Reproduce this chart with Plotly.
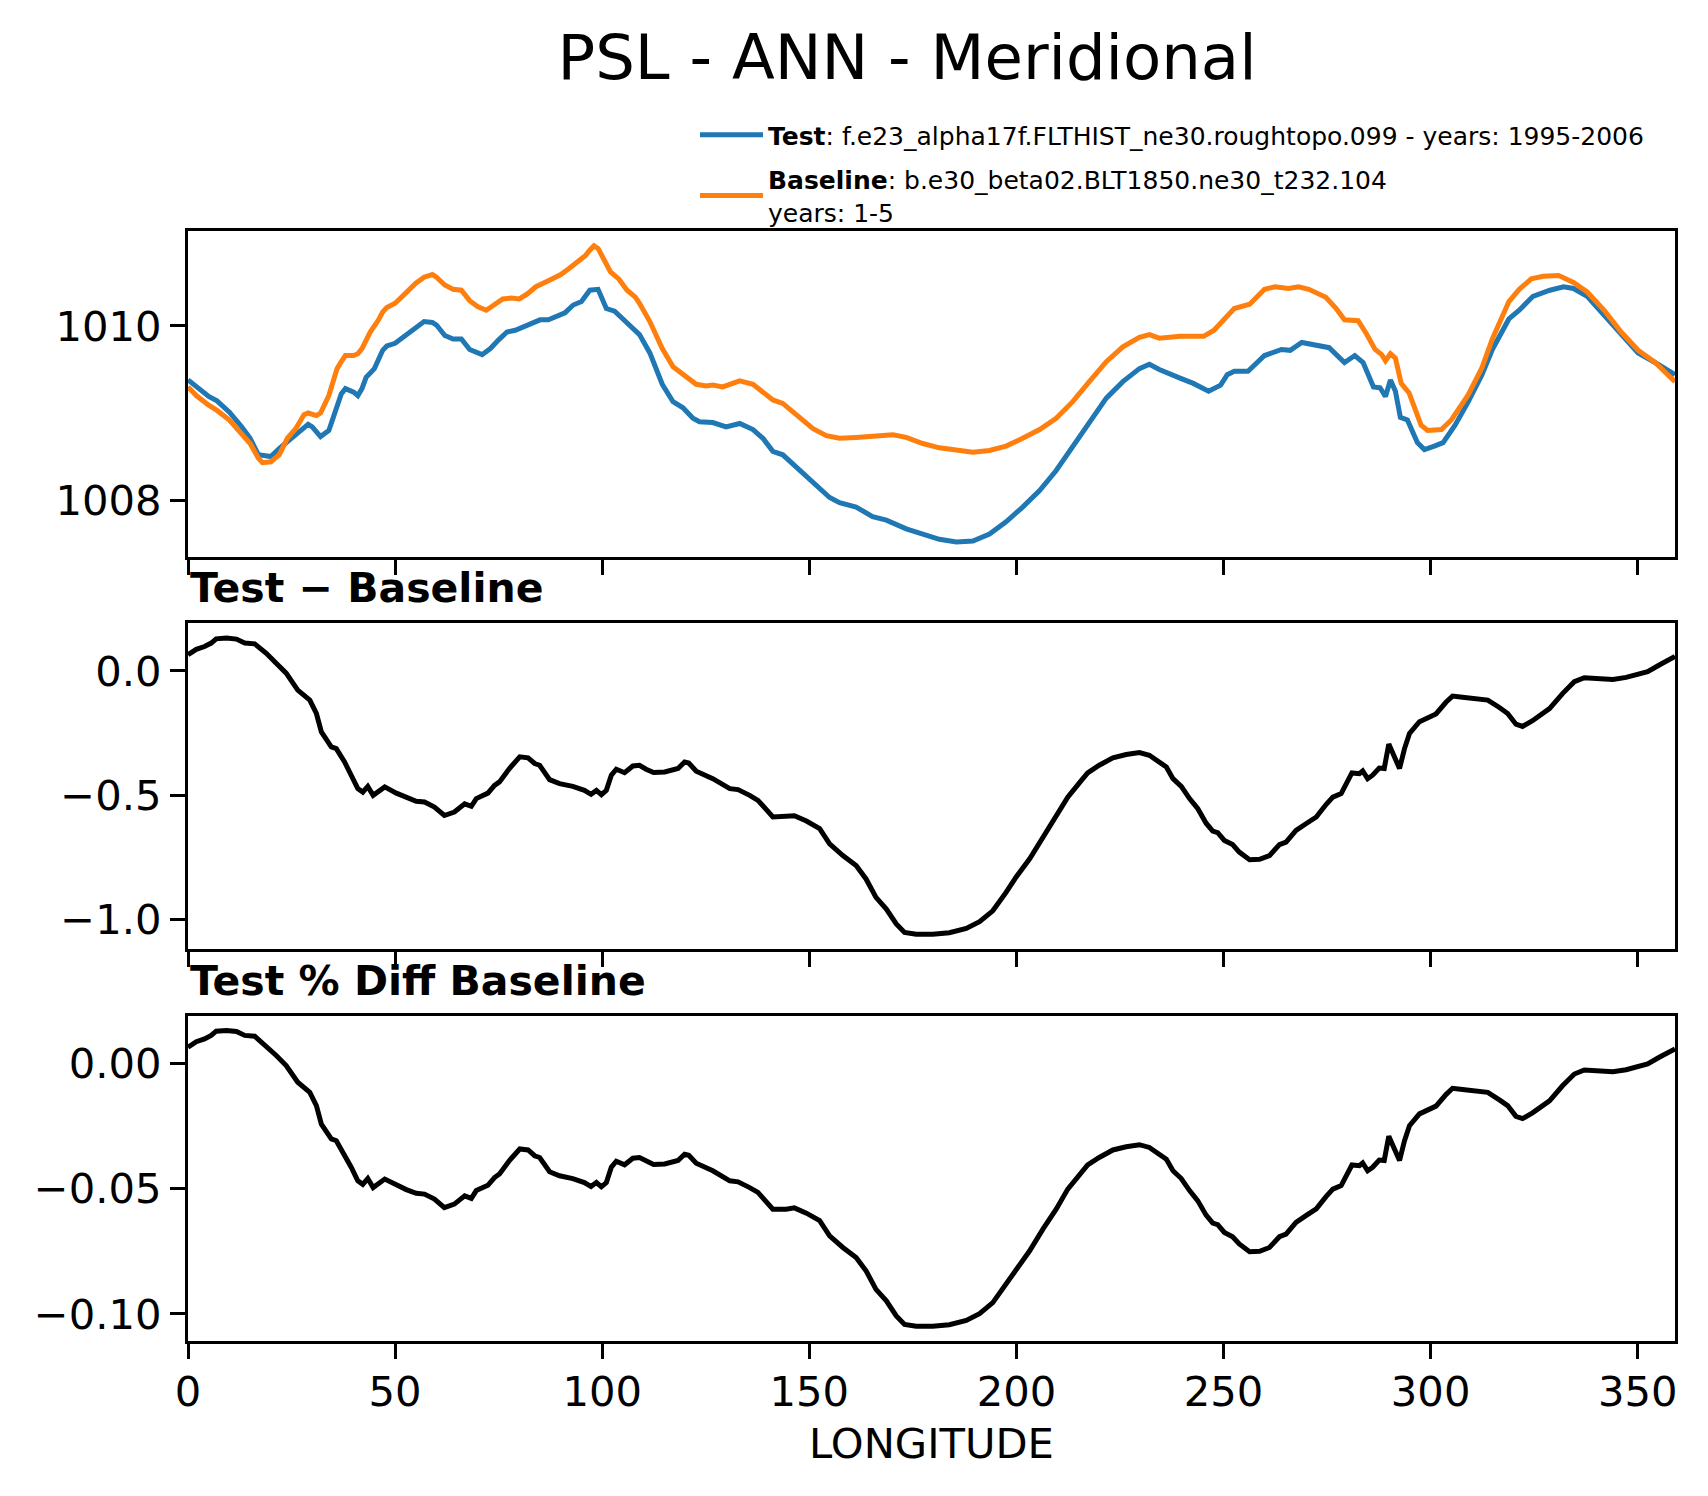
import plotly.graph_objects as go

# 经度 / 海平面气压 (hPa)
lon_test = [0, 2, 5, 7, 10, 13, 15, 17, 20, 22, 25, 27, 29, 30, 32, 34, 36, 37, 38, 40,
            41, 42, 43, 45, 47, 48, 50, 52, 55, 57, 59, 60, 62, 64, 66, 68, 71, 73, 75, 77,
            79, 82, 85, 87, 89, 91, 93, 95, 97, 99, 101, 103, 105, 107, 109, 111.5, 114.5, 117.1, 119.5, 121.9,
            123.5, 126.7, 129.9, 133.2, 136.4, 138.8, 141.2, 143.6, 146.0, 149.2, 152.5, 154.9, 157.3, 161.3, 165.3, 168.6,
            173.4, 177.4, 181.4, 185.5, 189.5, 193.5, 197.5, 201.5, 205.6, 209.6, 213.6, 217.6, 221.7, 225.7,
            229.7, 232.1, 234.5, 239.5, 242.7, 246.4, 249.3, 250.9, 252.6, 255.9, 259.9, 264.0, 266.1, 268.9,
            273.1, 275.5, 279.2, 281.7, 283.7, 286.2, 287.8, 289.1, 290.3, 291.5, 292.7, 294.4, 296.8, 298.5,
            300.9, 303.0, 305.9, 309.1, 312.4, 314.9, 318.9, 321.4, 324.7, 328.8, 332.1, 334.5, 337.8, 341.9,
            346.0, 350.1, 354.2, 359]
psl_test = [1009.38, 1009.30, 1009.19, 1009.14, 1009.01, 1008.84, 1008.71, 1008.52, 1008.50, 1008.59,
            1008.71, 1008.78, 1008.87, 1008.84, 1008.73, 1008.80, 1009.07, 1009.22, 1009.28, 1009.24,
            1009.20, 1009.28, 1009.41, 1009.51, 1009.72, 1009.77, 1009.80, 1009.87, 1009.97, 1010.05,
            1010.04, 1010.01, 1009.89, 1009.85, 1009.85, 1009.73, 1009.67, 1009.74, 1009.84, 1009.93,
            1009.95, 1010.01, 1010.07, 1010.07, 1010.11, 1010.15, 1010.24, 1010.28, 1010.41, 1010.42,
            1010.20, 1010.17, 1010.08, 1009.98, 1009.90, 1009.69, 1009.33, 1009.13, 1009.06, 1008.94,
            1008.90, 1008.89, 1008.84, 1008.88, 1008.81, 1008.71, 1008.56, 1008.52, 1008.42, 1008.27,
            1008.13, 1008.03, 1007.97, 1007.92, 1007.81, 1007.77, 1007.67, 1007.61, 1007.55, 1007.52,
            1007.53, 1007.61, 1007.75, 1007.92, 1008.11, 1008.34, 1008.61, 1008.90, 1009.17, 1009.36,
            1009.51, 1009.56, 1009.50, 1009.40, 1009.34, 1009.25, 1009.32, 1009.44, 1009.48, 1009.48,
            1009.66, 1009.73, 1009.72, 1009.81, 1009.78, 1009.75, 1009.58, 1009.66, 1009.58, 1009.30,
            1009.29, 1009.19, 1009.38, 1009.25, 1008.95, 1008.92, 1008.66, 1008.58, 1008.62, 1008.66,
            1008.86, 1009.13, 1009.44, 1009.73, 1010.08, 1010.18, 1010.34, 1010.41, 1010.45, 1010.43,
            1010.34, 1010.12, 1009.89, 1009.69, 1009.58, 1009.44]

lon_base = [0, 2, 5, 7, 10, 13, 15, 17, 18, 20, 22, 24, 26, 28, 29, 31, 32, 34, 36, 37,
            38, 40, 41, 42, 44, 46, 47, 48, 50, 52, 55, 57, 59, 60, 62, 64, 66, 68, 70, 72,
            74, 76, 78, 80, 82, 84, 87, 90, 92, 94, 96, 97, 98, 99, 101, 102, 104, 106, 108, 109,
            111.5, 114.5, 117.1, 119.5, 122.7, 125.1, 126.7, 129.1, 133.2, 136.4, 138.8, 141.2, 143.6, 146.8,
            150.9, 154.1, 157.3, 161.3, 166.1, 170.2, 173.4, 177.4, 181.4, 185.5, 189.5, 193.5, 197.5, 201.5,
            205.6, 209.6, 213.6, 217.6, 221.7, 225.7, 229.7, 232.1, 234.5, 239.5, 245.2, 247.7, 250.9, 252.6,
            256.3, 259.9, 262.4, 265.7, 268.1, 270.6, 274.7, 277.2, 279.2, 282.5, 284.5, 286.6, 288.2, 289.1,
            290.3, 291.5, 292.9, 294.8, 297.7, 299.3, 302.6, 305.0, 309.1, 312.4, 314.9, 318.9, 321.4, 324.3,
            327.2, 330.9, 334.5, 337.8, 341.9, 346.0, 350.1, 354.2, 359]
psl_base = [1009.30, 1009.20, 1009.09, 1009.03, 1008.92, 1008.76, 1008.65, 1008.48, 1008.43, 1008.44,
            1008.52, 1008.71, 1008.82, 1008.98, 1009.00, 1008.97, 1009.00, 1009.20, 1009.51, 1009.59,
            1009.66, 1009.66, 1009.68, 1009.74, 1009.93, 1010.07, 1010.16, 1010.21, 1010.26, 1010.35,
            1010.49, 1010.56, 1010.59, 1010.56, 1010.47, 1010.42, 1010.41, 1010.29, 1010.22, 1010.18,
            1010.24, 1010.31, 1010.32, 1010.31, 1010.37, 1010.45, 1010.52, 1010.59, 1010.66, 1010.73,
            1010.81, 1010.87, 1010.92, 1010.89, 1010.69, 1010.62, 1010.54, 1010.41, 1010.33, 1010.26,
            1010.05, 1009.74, 1009.53, 1009.45, 1009.33, 1009.31, 1009.32, 1009.30, 1009.37, 1009.33,
            1009.24, 1009.15, 1009.11, 1008.98, 1008.82, 1008.74, 1008.71, 1008.72, 1008.73, 1008.75,
            1008.72, 1008.65, 1008.60, 1008.57, 1008.55, 1008.57, 1008.62, 1008.71, 1008.81, 1008.94,
            1009.13, 1009.36, 1009.59, 1009.76, 1009.87, 1009.90, 1009.86, 1009.88, 1009.88, 1009.95,
            1010.10, 1010.20, 1010.25, 1010.42, 1010.45, 1010.43, 1010.45, 1010.42, 1010.33, 1010.20,
            1010.07, 1010.06, 1009.91, 1009.73, 1009.67, 1009.60, 1009.68, 1009.63, 1009.34, 1009.23,
            1008.86, 1008.80, 1008.81, 1008.92, 1009.21, 1009.52, 1009.85, 1010.28, 1010.42, 1010.54,
            1010.57, 1010.58, 1010.50, 1010.39, 1010.18, 1009.93, 1009.72, 1009.58, 1009.36]

# Test - Baseline (hPa) 和 百分比差
lon_diff = [0, 2, 4, 5.6, 6.8, 9.3, 11.7, 13.7, 16.1, 18.9, 21.3, 23.7, 26.5, 29.4, 31.0, 32.2, 34.6, 35.8, 37.8, 39.4,
            41.0, 42.2, 43.4, 44.7, 47.5, 50.3, 52.7, 55.1, 57.1, 59.5, 61.9, 64.3, 66.8, 68.4, 69.6, 72.4, 74.0, 75.2, 77.6, 80.1,
            82.1, 83.7, 84.9, 87.3, 89.7, 92.9, 95.7, 97.3, 98.6, 99.8, 101.0, 102.2, 103.4, 105.4, 107.4, 109.0, 110.6, 112.4, 115.1, 116.7,
            118.3, 119.9, 120.9, 122.7, 126.7, 130.8, 132.8, 135.6, 137.6, 141.2, 144.4, 146.4, 149.3, 152.5, 154.9, 158.1, 161.3, 163.7, 166.1, 168.6,
            171.0, 173.0, 175.8, 179.8, 183.8, 187.9, 191.1, 194.3, 197.5, 199.9, 203.2, 206.4, 209.6, 212.4, 215.2, 217.2, 220.0, 223.3, 226.5, 229.7,
            232.1, 234.5, 236.2, 237.8, 239.8, 241.8, 243.8, 245.8, 247.4, 248.6, 250.2, 252.2, 253.8, 256.3, 258.7, 261.1, 263.5, 265.1, 267.5, 269.9,
            272.4, 274.8, 276.4, 278.4, 279.6, 281.0, 282.8, 283.6, 284.8, 286.0, 287.6, 288.8, 289.9, 291.3, 292.5, 293.7, 294.9, 297.3, 298.9, 301.3,
            303.7, 305.3, 307.7, 311.0, 313.8, 316.6, 318.6, 320.6, 322.2, 324.6, 328.7, 331.9, 334.7, 337.1, 340.7, 344.0, 347.2, 350.4, 352.4, 355.2,
            357.2, 359.0]
diff = [0.065, 0.087, 0.098, 0.112, 0.129, 0.132, 0.128, 0.112, 0.109, 0.071, 0.031, -0.009, -0.077, -0.117, -0.171, -0.245, -0.305, -0.312, -0.366, -0.419,
        -0.473, -0.487, -0.464, -0.500, -0.466, -0.491, -0.509, -0.524, -0.527, -0.547, -0.581, -0.567, -0.534, -0.544, -0.513, -0.491, -0.460, -0.446, -0.392, -0.345,
        -0.349, -0.372, -0.379, -0.437, -0.453, -0.464, -0.480, -0.496, -0.480, -0.497, -0.480, -0.419, -0.395, -0.409, -0.382, -0.379, -0.395, -0.408, -0.406, -0.397,
        -0.392, -0.366, -0.370, -0.403, -0.433, -0.473, -0.477, -0.500, -0.520, -0.587, -0.587, -0.582, -0.603, -0.634, -0.695, -0.742, -0.782, -0.836, -0.910, -0.957,
        -1.017, -1.051, -1.058, -1.058, -1.052, -1.035, -1.008, -0.964, -0.890, -0.829, -0.755, -0.668, -0.587, -0.507, -0.450, -0.410, -0.379, -0.349, -0.336, -0.328,
        -0.339, -0.364, -0.386, -0.433, -0.464, -0.513, -0.554, -0.612, -0.644, -0.650, -0.681, -0.698, -0.728, -0.759, -0.757, -0.742, -0.698, -0.688, -0.641, -0.614,
        -0.587, -0.536, -0.507, -0.493, -0.453, -0.410, -0.413, -0.402, -0.433, -0.419, -0.390, -0.392, -0.294, -0.345, -0.392, -0.312, -0.251, -0.204, -0.191, -0.173,
        -0.126, -0.101, -0.106, -0.110, -0.117, -0.147, -0.171, -0.214, -0.223, -0.200, -0.151, -0.090, -0.043, -0.027, -0.030, -0.034, -0.026, -0.012, -0.003, 0.024,
        0.044, 0.058]
pct = [0.0064, 0.0086, 0.0097, 0.0111, 0.0128, 0.0131, 0.0127, 0.0111, 0.0108, 0.0070, 0.0031, -0.0009, -0.0076, -0.0116, -0.0169, -0.0243, -0.0302, -0.0309, -0.0363, -0.0415,
       -0.0469, -0.0483, -0.0460, -0.0496, -0.0462, -0.0487, -0.0504, -0.0519, -0.0522, -0.0542, -0.0576, -0.0562, -0.0529, -0.0539, -0.0508, -0.0487, -0.0456, -0.0442, -0.0388, -0.0342,
       -0.0346, -0.0369, -0.0376, -0.0433, -0.0449, -0.0460, -0.0476, -0.0492, -0.0476, -0.0493, -0.0476, -0.0415, -0.0391, -0.0405, -0.0379, -0.0376, -0.0391, -0.0404, -0.0402, -0.0393,
       -0.0388, -0.0363, -0.0367, -0.0399, -0.0429, -0.0469, -0.0473, -0.0496, -0.0515, -0.0582, -0.0582, -0.0577, -0.0598, -0.0628, -0.0689, -0.0735, -0.0775, -0.0828, -0.0902, -0.0948,
       -0.1008, -0.1042, -0.1049, -0.1049, -0.1043, -0.1026, -0.0999, -0.0955, -0.0882, -0.0821, -0.0748, -0.0662, -0.0582, -0.0502, -0.0446, -0.0406, -0.0376, -0.0346, -0.0333, -0.0325,
       -0.0336, -0.0361, -0.0383, -0.0429, -0.0460, -0.0508, -0.0549, -0.0606, -0.0638, -0.0644, -0.0675, -0.0692, -0.0721, -0.0752, -0.0750, -0.0735, -0.0692, -0.0682, -0.0635, -0.0608,
       -0.0581, -0.0531, -0.0502, -0.0488, -0.0449, -0.0406, -0.0409, -0.0398, -0.0429, -0.0415, -0.0386, -0.0388, -0.0291, -0.0342, -0.0388, -0.0309, -0.0249, -0.0202, -0.0189, -0.0171,
       -0.0125, -0.0100, -0.0105, -0.0109, -0.0116, -0.0146, -0.0169, -0.0212, -0.0221, -0.0198, -0.0150, -0.0089, -0.0043, -0.0027, -0.0030, -0.0034, -0.0026, -0.0012, -0.0003, 0.0024,
       0.0044, 0.0057]

xticks = [0, 50, 100, 150, 200, 250, 300, 350]

# 页面 body 有 8px 外边距，坐标按参考图像素给出再减去
OFF = 8
W, H = 1708 - OFF, 1496 - OFF
L, R, T, B = 188 - OFF, 1675 - OFF, 231 - OFF, 1341 - OFF   # 绘图区
PH = B - T


def py(px):
    # 参考图像素(自上而下) -> paper 坐标
    return (B - (px - OFF)) / PH


def px_x(px):
    return (px - OFF - L) / (R - L)


def pad_range(*arrs):
    lo = min(min(a) for a in arrs)
    hi = max(max(a) for a in arrs)
    m = 0.05 * (hi - lo)
    return [lo - m, hi + m]


FONT = "DejaVu Sans"
TICK = 41.7

fig = go.Figure()
fig.add_trace(go.Scatter(x=lon_test, y=psl_test, mode="lines", legendgroup="test",
                         name="<b>Test</b>: f.e23_alpha17f.FLTHIST_ne30.roughtopo.099 - years: 1995-2006",
                         line=dict(color="#1f77b4", width=5), xaxis="x", yaxis="y"))
fig.add_trace(go.Scatter(x=lon_base, y=psl_base, mode="lines", legendgroup="base",
                         name="<b>Baseline</b>: b.e30_beta02.BLT1850.ne30_t232.104<br>years: 1-5",
                         line=dict(color="#ff7f0e", width=5), xaxis="x", yaxis="y"))
fig.add_trace(go.Scatter(x=lon_diff, y=diff, mode="lines", showlegend=False,
                         line=dict(color="black", width=5), xaxis="x2", yaxis="y2"))
fig.add_trace(go.Scatter(x=lon_diff, y=pct, mode="lines", showlegend=False,
                         line=dict(color="black", width=5), xaxis="x3", yaxis="y3"))

axis_style = dict(showline=True, linecolor="black", linewidth=3.3, mirror=True,
                  ticks="outside", ticklen=15, tickwidth=3.3, tickcolor="black",
                  showgrid=False, zeroline=False,
                  tickfont=dict(family=FONT, size=TICK, color="black"))

doms = [[py(556.7), 1], [py(949), py(623.3)], [0, py(1015.6)]]
xr = [0, 359]

fig.update_layout(
    width=W, height=H,
    margin=dict(l=L, r=W - R, t=T, b=H - B),
    paper_bgcolor="white", plot_bgcolor="white",
    font=dict(family=FONT, color="black"),
    title=dict(text="PSL - ANN - Meridional", x=(907 - OFF) / W, y=1 - (57 - OFF) / H,
               xanchor="center", yanchor="middle",
               font=dict(family=FONT, size=62.5, color="black")),
    xaxis=dict(domain=[0, 1], anchor="y", range=xr, tickvals=xticks, showticklabels=False, **axis_style),
    xaxis2=dict(domain=[0, 1], anchor="y2", range=xr, tickvals=xticks, showticklabels=False, matches="x", **axis_style),
    xaxis3=dict(domain=[0, 1], anchor="y3", range=xr, tickvals=xticks, matches="x", ticklabelstandoff=-3,
                title=dict(text="LONGITUDE", standoff=14, font=dict(family=FONT, size=TICK, color="black")),
                **axis_style),
    yaxis=dict(domain=doms[0], anchor="x", range=pad_range(psl_test, psl_base), dtick=2, tick0=0,
               ticklabelstandoff=0, **axis_style),
    yaxis2=dict(domain=doms[1], anchor="x2", range=pad_range(diff), dtick=0.5, tickformat=".1f",
                ticklabelstandoff=0, **axis_style),
    yaxis3=dict(domain=doms[2], anchor="x3", range=pad_range(pct), dtick=0.05, tickformat=".2f",
                ticklabelstandoff=0, **axis_style),
    legend=dict(x=px_x(695), y=py(112), xanchor="left", yanchor="top",
                bgcolor="rgba(0,0,0,0)", font=dict(family=FONT, size=25, color="black"),
                traceorder="grouped", tracegroupgap=9, itemwidth=63),
    annotations=[
        dict(text="<b>Test \u2212 Baseline</b>", xref="paper", yref="paper", x=0, y=py(588),
             xanchor="left", yanchor="middle", showarrow=False,
             font=dict(family=FONT, size=41, color="black")),
        dict(text="<b>Test % Diff Baseline</b>", xref="paper", yref="paper", x=0, y=py(981),
             xanchor="left", yanchor="middle", showarrow=False,
             font=dict(family=FONT, size=41, color="black")),
    ],
)

fig.write_html("out.html")
